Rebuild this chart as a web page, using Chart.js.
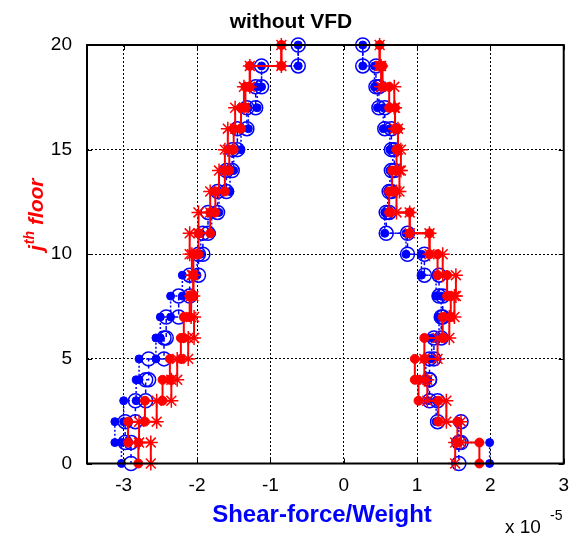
<!DOCTYPE html>
<html>
<head>
<meta charset="utf-8">
<script src="https://cdn.jsdelivr.net/npm/chart.js@4.4.1/dist/chart.umd.min.js"></script>
<style>
html, body { margin: 0; padding: 0; background: #fff; }
#wrap { width: 580px; height: 540px; }
</style>
</head>
<body>
<div id="wrap"><canvas id="chart" width="580" height="540"></canvas></div>
<script>
// Story shear / weight (x 1e-5), story 1 .. story 20
var blueDotMin  = [-3.03, -3.12, -3.00, -2.83, -2.79, -2.56, -2.50, -2.36, -2.20, -2.00, -1.95, -1.80, -1.70, -1.55, -1.50, -1.40, -1.30, -1.18, -1.12, -0.62];
var blueCircMin = [-2.90, -2.98, -2.84, -2.70, -2.66, -2.45, -2.42, -2.25, -2.10, -1.98, -1.92, -1.85, -1.72, -1.60, -1.52, -1.45, -1.32, -1.20, -1.12, -0.62];
var redDotMin   = [-2.80, -2.94, -2.71, -2.47, -2.37, -2.22, -2.18, -2.10, -2.05, -2.05, -1.98, -1.82, -1.75, -1.62, -1.56, -1.50, -1.40, -1.34, -1.28, -0.85];
var redStarMin  = [-2.63, -2.79, -2.55, -2.35, -2.27, -2.12, -2.04, -2.08, -2.05, -2.07, -2.10, -1.98, -1.82, -1.70, -1.62, -1.58, -1.48, -1.36, -1.28, -0.85];

var blueDotMax  = [1.99, 1.57, 1.26, 1.15, 1.12, 1.20, 1.30, 1.33, 1.26, 1.06, 0.85, 0.56, 0.60, 0.63, 0.67, 0.63, 0.54, 0.46, 0.42, 0.26];
var blueCircMax = [1.57, 1.60, 1.28, 1.17, 1.17, 1.23, 1.33, 1.35, 1.30, 1.10, 0.87, 0.58, 0.62, 0.65, 0.69, 0.65, 0.56, 0.48, 0.44, 0.26];
var redDotMax   = [1.85, 1.55, 1.29, 1.02, 0.97, 1.10, 1.35, 1.46, 1.41, 1.28, 1.17, 0.90, 0.62, 0.66, 0.72, 0.74, 0.70, 0.62, 0.53, 0.49];
var redStarMax  = [1.52, 1.60, 1.40, 1.14, 1.10, 1.28, 1.44, 1.51, 1.53, 1.35, 1.17, 0.90, 0.72, 0.76, 0.78, 0.74, 0.70, 0.69, 0.51, 0.49];

var xTicks = [-3, -2, -1, 0, 1, 2, 3];
var yTicks = [0, 5, 10, 15, 20];

var FONT = '"Liberation Sans", Arial, sans-serif';

// story k is constant between floor k-1 and floor k
function stairs(vals) {
    var pts = [];
    for (var k = vals.length; k >= 1; k--) {
        pts.push({ x: vals[k - 1], y: k });
        pts.push({ x: vals[k - 1], y: k - 1 });
    }
    return pts;
}

function blueDots(vals) {
    return { data: stairs(vals), borderColor: '#0000ff', backgroundColor: '#0000ff', borderWidth: 1.5,
             borderDash: [2, 2], pointRadius: 4, pointBorderWidth: 1, pointBackgroundColor: '#0000ff', order: 3, clip: false };
}
function blueCircles(vals) {
    return { data: stairs(vals), borderColor: '#0000ff', backgroundColor: '#0000ff', borderWidth: 1.5,
             borderDash: [4, 3], pointRadius: 7, pointBorderWidth: 1.5, pointBackgroundColor: 'rgba(0,0,0,0)', order: 2, clip: false };
}
function redDots(vals) {
    return { data: stairs(vals), borderColor: '#ff0000', backgroundColor: '#ff0000', borderWidth: 2,
             pointRadius: 4.5, pointBorderWidth: 1, pointBackgroundColor: '#ff0000', order: 1, clip: false };
}
function redStars(vals) {
    return { data: stairs(vals), borderColor: '#ff0000', backgroundColor: '#ff0000', borderWidth: 2,
             pointStyle: 'star', pointRadius: 7, pointBorderWidth: 1.5, order: 0, clip: false };
}

// box, inner ticks and all the loose texts
var decor = {
    id: 'decor',
    afterDraw: function(chart) {
        var c = chart.ctx, a = chart.chartArea;
        var sx = chart.scales.x, sy = chart.scales.y;
        c.save();
        c.strokeStyle = '#000';
        c.lineWidth = 1;
        c.beginPath();
        xTicks.forEach(function(v) {
            var px = Math.round(sx.getPixelForValue(v)) + 0.5;
            c.moveTo(px, a.bottom); c.lineTo(px, a.bottom - 5);
            c.moveTo(px, a.top); c.lineTo(px, a.top + 5);
        });
        yTicks.forEach(function(v) {
            var py = Math.round(sy.getPixelForValue(v)) + 0.5;
            c.moveTo(a.left, py); c.lineTo(a.left + 5, py);
            c.moveTo(a.right, py); c.lineTo(a.right - 5, py);
        });
        c.stroke();
        c.lineWidth = 2;
        c.strokeRect(a.left, a.top, a.right - a.left, a.bottom - a.top);

        // title
        c.fillStyle = '#000';
        c.textAlign = 'center';
        c.textBaseline = 'alphabetic';
        c.font = 'bold 21px ' + FONT;
        c.fillText('without VFD', 291, 28);

        // x label
        c.fillStyle = '#0000ff';
        c.font = 'bold 24px ' + FONT;
        c.fillText('Shear-force/Weight', 322, 522);

        // x 10^-5
        c.fillStyle = '#000';
        c.textAlign = 'left';
        c.font = '19px ' + FONT;
        c.fillText('x 10', 505, 533);
        c.font = '14px ' + FONT;
        c.fillText('-5', 550, 520);

        // y label, rotated
        c.translate(43, 251);
        c.rotate(-Math.PI / 2);
        c.fillStyle = '#ff0000';
        c.font = 'italic bold 21px ' + FONT;
        c.fillText('j', 0, 0);
        var w = c.measureText('j').width;
        c.font = 'italic bold 14px ' + FONT;
        c.fillText('th', w + 1, -9);
        w += 1 + c.measureText('th').width;
        c.font = 'italic bold 21px ' + FONT;
        c.fillText(' floor', w, 0);
        c.restore();
    }
};

var ctx = document.getElementById('chart');
new Chart(ctx, {
    type: 'line',
    data: {
        datasets: [
            blueDots(blueDotMin), blueDots(blueDotMax),
            blueCircles(blueCircMin), blueCircles(blueCircMax),
            redDots(redDotMin), redDots(redDotMax),
            redStars(redStarMin), redStars(redStarMax)
        ]
    },
    options: {
        responsive: false,
        animation: false,
        layout: { padding: { left: 0, right: 12, top: 45, bottom: 0 } },
        plugins: { legend: { display: false }, tooltip: { enabled: false } },
        elements: { line: { tension: 0 } },
        scales: {
            x: {
                type: 'linear',
                min: -3.5,
                max: 3,
                afterBuildTicks: function(s) { s.ticks = xTicks.map(function(v) { return { value: v }; }); },
                afterFit: function(s) { s.height = 76.5; },
                ticks: { color: '#000', font: { family: FONT, size: 19 }, padding: 11,
                         callback: function(v) { return String(v); } },
                grid: { color: '#000', lineWidth: 1, drawTicks: false },
                border: { display: false, dash: [2, 2] }
            },
            y: {
                type: 'linear',
                min: 0,
                max: 20,
                afterBuildTicks: function(s) { s.ticks = yTicks.map(function(v) { return { value: v }; }); },
                afterFit: function(s) { s.width = 87; },
                ticks: { color: '#000', font: { family: FONT, size: 19 }, padding: 15,
                         callback: function(v) { return String(v); } },
                grid: { color: '#000', lineWidth: 1, drawTicks: false },
                border: { display: false, dash: [2, 2] }
            }
        }
    },
    plugins: [decor]
});
</script>
</body>
</html>
